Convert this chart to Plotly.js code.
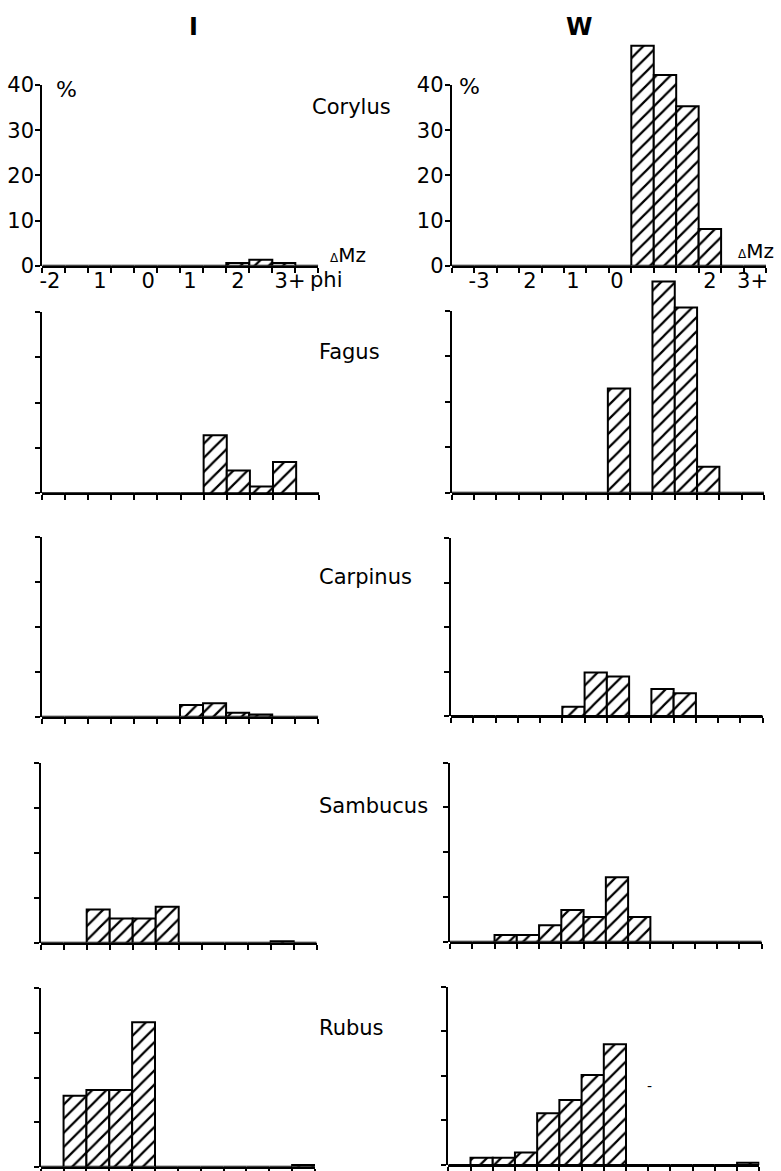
<!DOCTYPE html>
<html>
<head>
<meta charset="utf-8">
<script src="https://cdn.plot.ly/plotly-3.0.1.min.js"></script>
<style>
  html, body { margin: 0; padding: 0; background: #fff; }
  #chart { width: 781px; height: 1171px; }
</style>
</head>
<body>
<div id="chart"></div>
<script>
// Grain-size class centres (class index + 0.5); I has 12 classes, W has 14
const binsI = [0.5, 1.5, 2.5, 3.5, 4.5, 5.5, 6.5, 7.5, 8.5, 9.5, 10.5, 11.5];
const binsW = [0.5, 1.5, 2.5, 3.5, 4.5, 5.5, 6.5, 7.5, 8.5, 9.5, 10.5, 11.5, 12.5, 13.5];

// Percentages per class
const corylusI  = [0, 0, 0, 0, 0, 0, 0, 0, 0.6, 1.3, 0.6, 0];
const fagusI    = [0, 0, 0, 0, 0, 0, 0, 12.8, 5.0, 1.5, 6.9, 0];
const carpinusI = [0, 0, 0, 0, 0, 0, 2.6, 3.0, 0.9, 0.5, 0, 0];
const sambucusI = [0, 0, 7.4, 5.4, 5.4, 8.0, 0, 0, 0, 0, 0.3, 0];
const rubusI    = [0, 15.9, 17.2, 17.2, 32.4, 0, 0, 0, 0, 0, 0, 0.4];

const corylusW  = [0, 0, 0, 0, 0, 0, 0, 0, 48.7, 42.2, 35.3, 8.1, 0, 0];
const fagusW    = [0, 0, 0, 0, 0, 0, 0, 22.9, 0, 46.4, 40.7, 5.7, 0, 0];
const carpinusW = [0, 0, 0, 0, 0, 2.1, 9.8, 8.9, 0, 6.1, 5.1, 0, 0, 0];
const sambucusW = [0, 0, 1.5, 1.5, 3.7, 7.1, 5.5, 14.4, 5.5, 0, 0, 0, 0, 0];
const rubusW    = [0, 1.6, 1.6, 2.8, 11.6, 14.6, 20.2, 27.1, 0, 0, 0, 0, 0, 0.5];

const species = ['Corylus', 'Fagus', 'Carpinus', 'Sambucus', 'Rubus'];
const columnTitles = ['I', 'W'];

// Tick labels
const yTickLabels = ['0', '10', '20', '30', '40'];
const xTickLabelsI = ['-2', '1', '0', '1', '2', '3+'];
const xTickLabelsW = ['-3', '2', '1', '0', '2', '3+'];

// ---- layout geometry (pixels) ----
const W = 781, H = 1171;
const xLabelPosI = [0.33, 2.51, 4.6, 6.42, 8.51, 10.77];
const xLabelPosW = [1.22, 3.49, 5.4, 7.36, 11.5, 13.4];

const panels = [
  { x: binsI, y: corylusI,  x0: 42.3, x1: 318.3, base: 265.7, top: 85 },
  { x: binsI, y: fagusI,    x0: 41.7, x1: 319.3, base: 493.3, top: 311.7 },
  { x: binsI, y: carpinusI, x0: 41.7, x1: 318.3, base: 716.7, top: 537.3 },
  { x: binsI, y: sambucusI, x0: 40.7, x1: 316.7, base: 942.7, top: 762.7 },
  { x: binsI, y: rubusI,    x0: 40.7, x1: 315.0, base: 1166.7, top: 988.3 },
  { x: binsW, y: corylusW,  x0: 451.7, x1: 766.0, base: 265.7, top: 85 },
  { x: binsW, y: fagusW,    x0: 451.7, x1: 764.0, base: 492.7, top: 310.7 },
  { x: binsW, y: carpinusW, x0: 451.0, x1: 762.7, base: 716.0, top: 538.3 },
  { x: binsW, y: sambucusW, x0: 450.0, x1: 761.7, base: 941.7, top: 762.7 },
  { x: binsW, y: rubusW,    x0: 448.3, x1: 759.3, base: 1165.0, top: 986.7 }
];

const FONT = 'DejaVu Sans';
const px = v => v / W;
const py = v => 1 - v / H;

const traces = [];
const layout = {
  width: W, height: H,
  margin: { l: 0, r: 0, t: 0, b: 0 },
  paper_bgcolor: '#ffffff',
  plot_bgcolor: 'rgba(0,0,0,0)',
  showlegend: false,
  bargap: 0,
  font: { family: FONT, color: '#000', size: 20 },
  annotations: [],
  shapes: []
};

panels.forEach((p, i) => {
  const n = i + 1;
  const nBins = p.x.length;
  const isTop = (i % 5) === 0;
  const isW = i >= 5;
  const k = (p.base - p.top) / 40;          // pixels per percent
  const yMax = 50;
  const xs = n === 1 ? '' : String(n);
  const ysBar = n === 1 ? '' : String(n);
  const ysAxis = String(n + 10);

  // Hatched histogram bars
  traces.push({
    type: 'bar',
    x: p.x, y: p.y,
    xaxis: 'x' + xs, yaxis: 'y' + ysBar,
    width: 1,
    marker: {
      color: '#ffffff',
      line: { color: '#000', width: 2 },
      pattern: { shape: '/', fgcolor: '#000', bgcolor: '#ffffff', size: 10, solidity: 0.22 }
    },
    hoverinfo: 'skip'
  });
  // Carrier for the visible 0–40 % axis
  traces.push({
    type: 'scatter', x: [], y: [],
    xaxis: 'x' + xs, yaxis: 'y' + ysAxis,
    hoverinfo: 'skip', showlegend: false
  });

  const ticks = [];
  for (let t = 0; t <= nBins; t++) ticks.push(t);

  const xa = {
    domain: [px(p.x0), px(p.x1)],
    range: [0, nBins],
    anchor: 'y' + ysBar,
    showline: true, linecolor: '#000', linewidth: 2,
    showgrid: false, zeroline: false, fixedrange: true,
    tickfont: { family: FONT, size: 21, color: '#000' }
  };
  if (isTop) {
    xa.tickmode = 'array';
    xa.tickvals = isW ? xLabelPosW : xLabelPosI;
    xa.ticktext = isW ? xTickLabelsW : xTickLabelsI;
    xa.ticks = 'outside';
    xa.ticklen = 0;
    xa.ticklabelstandoff = -5;
    xa.minor = { tickmode: 'array', tickvals: ticks, ticks: 'outside', ticklen: 5, tickwidth: 2, tickcolor: '#000', showgrid: false };
  } else {
    xa.tickmode = 'array';
    xa.tickvals = ticks;
    xa.ticks = 'outside';
    xa.ticklen = 5; xa.tickwidth = 2; xa.tickcolor = '#000';
    xa.showticklabels = false;
  }
  layout['xaxis' + xs] = xa;

  // Axis holding the bars (0–50 %, no visible line)
  layout['yaxis' + ysBar] = {
    domain: [py(p.base), py(p.base - yMax * k)],
    range: [0, yMax],
    anchor: 'x' + xs,
    showline: false, showgrid: false, zeroline: false,
    showticklabels: false, ticks: '', fixedrange: true
  };
  // Visible axis, 0–40 %
  layout['yaxis' + ysAxis] = {
    domain: [py(p.base), py(p.top)],
    range: [0, 40],
    anchor: 'x' + xs,
    side: 'left',
    showline: true, linecolor: '#000', linewidth: 2,
    showgrid: false, zeroline: false, fixedrange: true,
    tickmode: 'array', tickvals: [0, 10, 20, 30, 40],
    ticktext: yTickLabels,
    ticks: 'outside', ticklen: 5, tickwidth: 2, tickcolor: '#000',
    showticklabels: isTop,
    ticklabelstandoff: -3,
    tickfont: { family: FONT, size: 21, color: '#000' }
  };
});

function txt(text, x, y, size, opts) {
  layout.annotations.push(Object.assign({
    text: text, xref: 'paper', yref: 'paper',
    x: px(x), y: py(y), xanchor: 'center', yanchor: 'middle',
    showarrow: false, font: { family: FONT, size: size, color: '#000' }
  }, opts || {}));
}

// Column headings
txt('<b>' + columnTitles[0] + '</b>', 193, 27, 24);
txt('<b>' + columnTitles[1] + '</b>', 579, 27, 24);

// Percent signs at the top of the scales
txt('%', 66, 90, 22);
txt('%', 469, 86, 22);

// Species names
const speciesY = [107, 352, 577, 806, 1028];
species.forEach((s, j) => {
  txt(s, j === 0 ? 310 : 317, speciesY[j], 21, { xanchor: 'left' });
});

// ΔMz markers and phi unit
txt('<span style="font-size:12px">Δ</span>Mz', 348, 255, 20);
txt('<span style="font-size:12px">Δ</span>Mz', 756, 251, 20);
txt('phi', 326, 280, 21);
txt('-', 649, 1086, 14);

Plotly.newPlot('chart', traces, layout, { staticPlot: true, displayModeBar: false });
</script>
</body>
</html>
